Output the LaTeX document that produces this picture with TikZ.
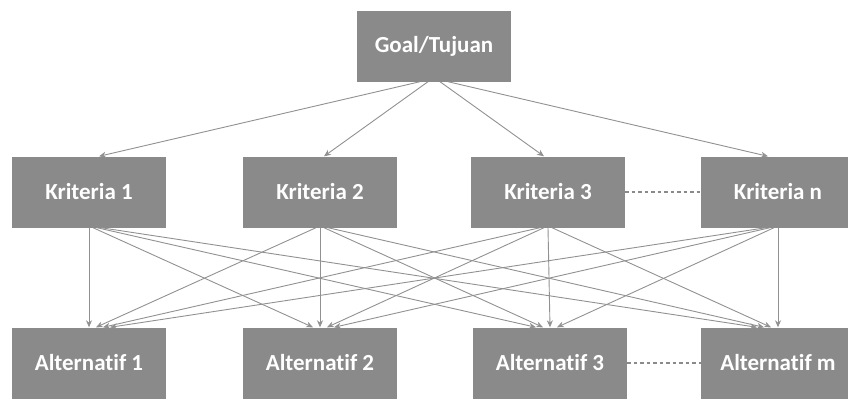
\documentclass[tikz,border=0pt]{standalone}
\usepackage{fontspec}
\setmainfont[Ligatures=NoCommon]{Carlito}
\usetikzlibrary{arrows.meta}
\definecolor{boxgray}{RGB}{138,138,138}
\definecolor{linegray}{RGB}{145,145,145}
\tikzset{
  box/.style={fill=boxgray, draw=none, minimum width=154pt, minimum height=71pt, inner sep=0pt,
    text=white, font=\bfseries\fontsize{23}{26}\selectfont},
  link/.style={draw=linegray, line width=0.9pt, -{Stealth[length=7pt,width=6pt]}},
  dots/.style={draw=boxgray, line width=1.6pt, dash pattern=on 3.5pt off 3pt}
}
\begin{document}
\begin{tikzpicture}[x=1pt,y=-1pt]
\useasboundingbox (0,0) rectangle (848,399);
\node[box] (g) at (434,46) {Goal/Tujuan};
\node[box] (k1) at (89,192) {Kriteria 1};
\node[box] (k2) at (320,192) {Kriteria 2};
\node[box] (k3) at (548,192) {Kriteria 3};
\node[box] (kn) at (778,192) {Kriteria n};
\node[box] (a1) at (89,363) {Alternatif 1};
\node[box] (a2) at (320,363) {Alternatif 2};
\node[box] (a3) at (550,363) {Alternatif 3};
\node[box] (am) at (778,363) {Alternatif m};
\draw[link] ([xshift=-14pt]g.south) -- ([xshift=10pt]k1.north);
\draw[link] ([xshift=-6pt]g.south) -- ([xshift=4pt]k2.north);
\draw[link] ([xshift=6pt]g.south) -- ([xshift=-4pt]k3.north);
\draw[link] ([xshift=14pt]g.south) -- ([xshift=-10pt]kn.north);
\draw[dots] (k3.east) -- (kn.west);
\draw[dots] (a3.east) -- (am.west);
\foreach \i/\a in {1/k1,2/k2,3/k3,4/kn}{
  \foreach \j/\b in {1/a1,2/a2,3/a3,4/am}{
    \pgfmathsetmacro{\sx}{4*(\j-\i)}
    \pgfmathsetmacro{\ex}{7*(\i-\j)}
    \draw[link] ([xshift=\sx pt]\a.south) -- ([xshift=\ex pt]\b.north);
  }
}
\end{tikzpicture}
\end{document}
